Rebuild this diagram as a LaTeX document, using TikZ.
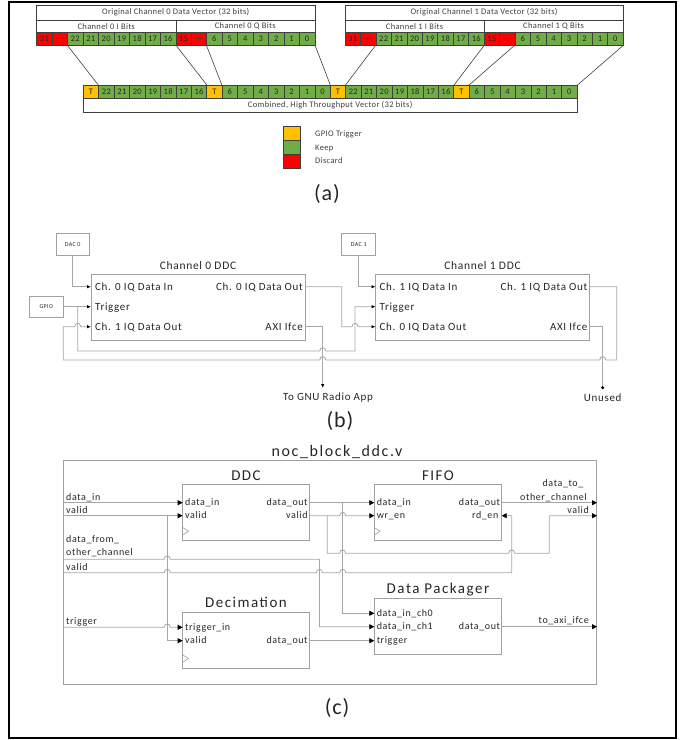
\documentclass[tikz,border=0pt]{standalone}
\usepackage{fontspec}
\setmainfont{Carlito}
\newfontfamily\fa[LetterSpace=4]{Carlito}
\newfontfamily\fb[LetterSpace=6]{Carlito}
\newfontfamily\fc[LetterSpace=10]{Carlito}
\usetikzlibrary{arrows.meta}
\definecolor{cred}{HTML}{FF0000}
\definecolor{cgreen}{HTML}{70AD47}
\definecolor{corange}{HTML}{FFC000}
\definecolor{cellborder}{HTML}{3F3F3F}
\definecolor{hdrtext}{HTML}{404040}
\definecolor{txt}{HTML}{262626}
\definecolor{wiregray}{HTML}{A6A6A6}
\definecolor{boxgray}{HTML}{A0A0A0}
\newcommand\hopR[2]{-- ({#1-3},#2) .. controls ({#1-3},{#2-4.5}) and ({#1+3},{#2-4.5}) .. ({#1+3},#2)}
\newcommand\hopL[2]{-- ({#1+3},#2) .. controls ({#1+3},{#2-4.5}) and ({#1-3},{#2-4.5}) .. ({#1-3},#2)}
\tikzset{
  cell/.style={draw=cellborder, line width=0.5pt, minimum width=15.45pt, minimum height=12.7pt, inner sep=0pt, font=\fa\fontsize{8.5}{10}\selectfont, text=txt},
  hdr/.style={draw=cellborder, line width=0.5pt, inner sep=0pt, font=\fa\fontsize{8.5}{10}\selectfont, text=hdrtext},
  conn/.style={draw=cellborder, line width=0.6pt},
  leg/.style={font=\fa\fontsize{8.5}{10}\selectfont, text=hdrtext, inner sep=0pt, anchor=base west},
  biglab/.style={font=\fa\fontsize{22}{24}\selectfont, text=txt},
  bbox/.style={draw=boxgray, line width=0.8pt, inner sep=0pt},
  btitle/.style={font=\fb\fontsize{11.5}{13}\selectfont, text=txt, inner sep=0pt, anchor=base},
  bport/.style={font=\fb\fontsize{11}{13}\selectfont, text=txt, inner sep=0pt},
  small/.style={font=\fb\fontsize{6}{7}\selectfont, text=txt},
  wire/.style={draw=wiregray, line width=0.8pt},
  barrow/.style={-{Latex[length=4pt,width=3.5pt,color=black]}},
  cbox/.style={draw=boxgray, line width=0.8pt, inner sep=0pt},
  ctitle/.style={font=\fc\fontsize{15}{17}\selectfont, text=txt, inner sep=0pt, anchor=base},
  cport/.style={font=\fb\fontsize{10}{12}\selectfont, text=txt, inner sep=0pt},
  carrow/.style={-{Triangle[length=5pt,width=5pt,color=black]}},
  clk/.style={draw=boxgray, line width=0.6pt}
}
\begin{document}
\begin{tikzpicture}[x=1pt,y=-1pt]
\useasboundingbox (0,0) rectangle (681,740);
\draw[line width=1.2pt] (9,2) rectangle (676,738);

% ---------------- (a) ----------------
\foreach \v/\xo in {0/36.7, 1/345}{
  \node[hdr, minimum width=278.1pt, minimum height=15pt] (h\v) at ({\xo+139.05},12.5) {Original Channel \v\ Data Vector (32 bits)};
  \node[hdr, minimum width=139.05pt, minimum height=12.3pt] (hi\v) at ({\xo+69.525},26.15) {Channel \v\ I Bits};
  \node[hdr, minimum width=139.05pt, minimum height=12.3pt] (hq\v) at ({\xo+208.575},26.15) {Channel \v\ Q Bits};
  \foreach \lab/\col [count=\i from 0] in {31/cred,{\ldots}/cred,22/cgreen,21/cgreen,20/cgreen,19/cgreen,18/cgreen,17/cgreen,16/cgreen,15/cred,{\ldots}/cred,6/cgreen,5/cgreen,4/cgreen,3/cgreen,2/cgreen,1/cgreen,0/cgreen}
    \node[cell, fill=\col] (t\v c\i) at ({\xo+15.45*(\i+0.5)},38.65) {\lab};
}
\foreach \lab/\col [count=\i from 0] in {T/corange,22/cgreen,21/cgreen,20/cgreen,19/cgreen,18/cgreen,17/cgreen,16/cgreen,T/corange,6/cgreen,5/cgreen,4/cgreen,3/cgreen,2/cgreen,1/cgreen,0/cgreen,T/corange,22/cgreen,21/cgreen,20/cgreen,19/cgreen,18/cgreen,17/cgreen,16/cgreen,T/corange,6/cgreen,5/cgreen,4/cgreen,3/cgreen,2/cgreen,1/cgreen,0/cgreen}
  \node[cell, fill=\col, minimum width=15.43pt, minimum height=12.5pt] (cc\i) at ({83.3+15.43*(\i+0.5)},91.75) {\lab};
\node[hdr, minimum width=493.76pt, minimum height=14pt] (comb) at (330.18,105) {Combined, High Throughput Vector (32 bits)};

\draw[conn] (t0c2.south west) -- (cc1.north west);
\draw[conn] (t0c8.south east) -- (cc7.north east);
\draw[conn] (t0c11.south west) -- (cc9.north west);
\draw[conn] (t0c17.south east) -- (cc15.north east);
\draw[conn] (t1c2.south west) -- (cc17.north west);
\draw[conn] (t1c8.south east) -- (cc23.north east);
\draw[conn] (t1c11.south west) -- (cc25.north west);
\draw[conn] (t1c17.south east) -- (cc31.north east);

\node[cell, fill=corange, minimum width=16.7pt, minimum height=14pt] (lg1) at (291.65,133) {};
\node[cell, fill=cgreen, minimum width=16.7pt, minimum height=14pt] (lg2) at (291.65,147) {};
\node[cell, fill=cred, minimum width=16.7pt, minimum height=14pt] (lg3) at (291.65,161) {};
\node[leg] (lgt1) at (315,136) {GPIO Trigger};
\node[leg] (lgt2) at (315,150) {Keep};
\node[leg] (lgt3) at (315,163.5) {Discard};
\node[biglab] (la) at (327,193.5) {(a)};

% ---------------- (b) ----------------
\node[bbox, minimum width=33.3pt, minimum height=21.7pt] (dac0) at (72.65,244.15) {};
\node[small] at (dac0) {DAC 0};
\node[bbox, minimum width=34pt, minimum height=21.7pt] (dac1) at (358.7,244.15) {};
\node[small] at (dac1) {DAC 1};
\node[bbox, minimum width=34pt, minimum height=21pt] (gpio) at (46.3,306.7) {};
\node[small] at (gpio) {GPIO};

\node[bbox, minimum width=214pt, minimum height=66pt] (ch0) at (198,307) {};
\node[btitle] (ch0t) at (198,269.5) {Channel 0 DDC};
\node[bbox, minimum width=214pt, minimum height=66pt] (ch1) at (482.5,307) {};
\node[btitle] (ch1t) at (482.5,269.5) {Channel 1 DDC};

\coordinate (p0in) at (91,286.7);
\coordinate (p0trig) at (91,306.7);
\coordinate (p0ch1) at (91,326.7);
\coordinate (p0out) at (305,286.7);
\coordinate (p0axi) at (305,326.7);
\coordinate (p1in) at (375.5,286.7);
\coordinate (p1trig) at (375.5,306.7);
\coordinate (p1ch0) at (375.5,326.7);
\coordinate (p1out) at (589.5,286.7);
\coordinate (p1axi) at (589.5,326.7);

\node[bport, anchor=base west] at (95,290.3) {Ch. 0 IQ Data In};
\node[bport, anchor=base west] at (95,310.3) {Trigger};
\node[bport, anchor=base west] at (95,330.3) {Ch. 1 IQ Data Out};
\node[bport, anchor=base east] at (303,290.3) {Ch. 0 IQ Data Out};
\node[bport, anchor=base east] at (303,330.3) {AXI Ifce};
\node[bport, anchor=base west] at (379.5,290.3) {Ch. 1 IQ Data In};
\node[bport, anchor=base west] at (379.5,310.3) {Trigger};
\node[bport, anchor=base west] at (379.5,330.3) {Ch. 0 IQ Data Out};
\node[bport, anchor=base east] at (587.5,290.3) {Ch. 1 IQ Data Out};
\node[bport, anchor=base east] at (587.5,330.3) {AXI Ifce};

\coordinate (gsplit) at (77.7,306.7);
\coordinate (gnutip) at (322.7,388);
\coordinate (unusedpt) at (602.7,387.7);
\node[bport] (gnu) at (328,398) {To GNU Radio App};
\node[bport] (unused) at (602.7,398) {Unused};

\draw[wire, barrow] (dac0.south) -- (dac0.south |- p0in) -- (p0in);
\draw[wire, barrow] (gpio.east) -- (p0trig);
\draw[wire, barrow] (gsplit) -- (77.7,351) \hopR{322.7}{351} -- (355,351) -- (355,306.7) -- (p1trig);
\draw[wire, barrow] (p0out) -- (341.7,286.7) -- (341.7,326.7) \hopR{355}{326.7} -- (p1ch0);
\draw[wire, barrow] (dac1.south) -- (dac1.south |- p1in) -- (p1in);
\draw[wire, barrow] (p1out) -- (616.7,286.7) -- (616.7,360) \hopL{602.7}{360} \hopL{322.7}{360} -- (63.3,360) -- (63.3,326.7) \hopR{77.7}{326.7} -- (p0ch1);
\draw[wire, barrow] (p0axi) -- (322.7,326.7) -- (gnutip);
\draw[wire] (p1axi) -- (602.7,326.7) -- (unusedpt);
\fill (unusedpt) circle (1.7);
\node[biglab] (lb) at (340,420.5) {(b)};

% ---------------- (c) ----------------
\node[cbox, minimum width=532.7pt, minimum height=224pt] (noc) at (329.65,572) {};
\node[ctitle, font=\fc\fontsize{16}{18}\selectfont] (noct) at (337,456) {noc\_block\_ddc.v};

\node[cbox, minimum width=126.6pt, minimum height=56.4pt] (ddc) at (246,512.5) {};
\node[ctitle] (ddct) at (246,480.5) {DDC};
\node[cbox, minimum width=127.4pt, minimum height=56.4pt] (fifo) at (438,512.5) {};
\node[ctitle] (fifot) at (438,480.5) {FIFO};
\node[cbox, minimum width=126.6pt, minimum height=56pt] (dec) at (246,640) {};
\node[ctitle] (dect) at (246,607.5) {Decimation};
\node[cbox, minimum width=127.4pt, minimum height=56pt] (dp) at (438,626) {};
\node[ctitle] (dpt) at (438,593.5) {Data Packager};

\draw[clk] (182.7,527.5) -- (188.5,531.2) -- (182.7,535);
\draw[clk] (374.3,527.5) -- (380.1,531.2) -- (374.3,535);
\draw[clk] (182.7,654.8) -- (188.5,658.5) -- (182.7,662.2);

% ports
\coordinate (ddcdin) at (182.7,502.7);
\coordinate (ddcvin) at (182.7,515.7);
\coordinate (ddcdout) at (309.3,502.7);
\coordinate (ddcvout) at (309.3,515.7);
\coordinate (fifodin) at (374.3,502.7);
\coordinate (fifowr) at (374.3,515.7);
\coordinate (fifodout) at (501.7,502.7);
\coordinate (fiford) at (501.7,515.7);
\coordinate (dectrig) at (182.7,627.3);
\coordinate (decvin) at (182.7,640.7);
\coordinate (decdout) at (309.3,640.7);
\coordinate (dpch0) at (374.3,613.3);
\coordinate (dpch1) at (374.3,626.7);
\coordinate (dptrig) at (374.3,640.7);
\coordinate (dpdout) at (501.7,626.7);
\coordinate (inDin) at (63.3,502.7);
\coordinate (inValid) at (63.3,515.7);
\coordinate (inOther) at (63.3,559.3);
\coordinate (inOValid) at (63.3,572.7);
\coordinate (inTrig) at (63.3,627.3);
\coordinate (outData) at (597,502.7);
\coordinate (outValid) at (597,515.7);
\coordinate (outAxi) at (597,626.7);

\node[cport, anchor=base west] at (185,505.7) {data\_in};
\node[cport, anchor=base west] at (185,518.7) {valid};
\node[cport, anchor=base east] at (307.8,505.7) {data\_out};
\node[cport, anchor=base east] at (307.8,518.7) {valid};
\node[cport, anchor=base west] at (376.6,505.7) {data\_in};
\node[cport, anchor=base west] at (376.6,518.7) {wr\_en};
\node[cport, anchor=base east] at (500.2,505.7) {data\_out};
\node[cport, anchor=base east] at (498.5,518.7) {rd\_en};
\node[cport, anchor=base west] at (185,630.3) {trigger\_in};
\node[cport, anchor=base west] at (185,643.7) {valid};
\node[cport, anchor=base east] at (307.8,643.7) {data\_out};
\node[cport, anchor=base west] at (376.6,616.3) {data\_in\_ch0};
\node[cport, anchor=base west] at (376.6,629.7) {data\_in\_ch1};
\node[cport, anchor=base west] at (376.6,643.7) {trigger};
\node[cport, anchor=base east] at (500.2,629.7) {data\_out};

\node[cport, anchor=base west] at (66,500.7) {data\_in};
\node[cport, anchor=base west] at (66,513.5) {valid};
\node[cport, anchor=base west] at (66,542.3) {data\_from\_};
\node[cport, anchor=base west] at (66,555.7) {other\_channel};
\node[cport, anchor=base west] at (66,570) {valid};
\node[cport, anchor=base west] at (66,624.5) {trigger};
\node[cport, anchor=base east] at (583.5,486.7) {data\_to\_};
\node[cport, anchor=base east] at (587,500.5) {other\_channel};
\node[cport, anchor=base east] at (589,513.5) {valid};
\node[cport, anchor=base east] at (589,623.8) {to\_axi\_ifce};

\draw[wire, carrow] (inDin) -- (ddcdin);
\draw[wire, carrow] (inValid) -- (ddcvin);
\draw[wire, carrow] (167.3,515.7) -- (167.3,640.7) -- (decvin);
\draw[wire, carrow] (ddcdout) -- (fifodin);
\draw[wire, carrow] (342.7,502.7) -- (342.7,613.3) -- (dpch0);
\draw[wire, carrow] (ddcvout) \hopR{342.7}{515.7} -- (fifowr);
\draw[wire, carrow] (327.3,515.7) -- (327.3,553.3) \hopR{342.7}{553.3} \hopR{511.7}{553.3} -- (549.3,553.3) -- (549.3,515.7) -- (outValid);
\draw[wire, carrow] (inOther) \hopR{167.3}{559.3} -- (319.5,559.3) -- (319.5,626.7) -- (dpch1);
\draw[wire, carrow] (inOValid) \hopR{167.3}{572.7} \hopR{319.5}{572.7} \hopR{342.7}{572.7} -- (511.7,572.7) -- (511.7,515.7) -- (fiford);
\draw[wire, carrow] (inTrig) \hopR{167.3}{627.3} -- (dectrig);
\draw[wire, carrow] (decdout) -- (dptrig);
\draw[wire, carrow] (dpdout) -- (outAxi);
\draw[wire, carrow] (fifodout) -- (outData);

\node[biglab] (lc) at (337,708) {(c)};
\end{tikzpicture}
\end{document}
